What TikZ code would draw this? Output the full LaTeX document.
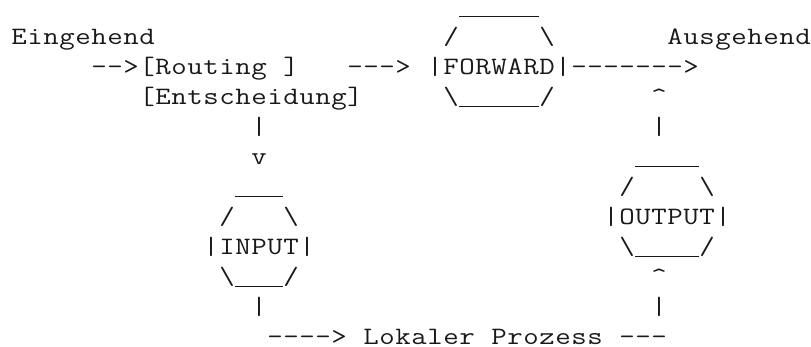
\documentclass[tikz,border=0pt]{standalone}
\usepackage{fontspec}
\usepackage{graphicx}
\newlength\cellw
\setlength\cellw{16pt}
\newcommand\asciicell[1]{\makebox[\cellw][c]{\scalebox{1.2}[1]{#1}}}
\def\asciiaux#1{\ifx\relax#1\let\asciinext\relax\else\asciicell{#1}\let\asciinext\asciiaux\fi\asciinext}
\newcommand\asciistr[1]{\asciiaux#1\relax}
\newcommand\us{\rule[-2.2pt]{13.34pt}{1.2pt}}
\newcommand\bs{\textbackslash}
\newcommand\caret{\textasciicircum}
\tikzset{
  asc/.style={anchor=base west, inner sep=0pt, outer sep=0pt,
    font=\ttfamily\fontsize{25pt}{30pt}\selectfont, text=black!90}
}
\begin{document}
\begin{tikzpicture}
\useasboundingbox (0pt,0pt) rectangle (811pt,-347pt);
\begin{scope}[x=16pt, y=-30pt, shift={(11pt,-15pt)}]
% row 0
\node[asc] (fwdtop) at (28,0) {\asciistr{\us\us\us\us\us}};
% row 1
\node[asc] (ein) at (0,1) {\asciistr{Eingehend}};
\node[asc] (fwdtl) at (27,1) {\asciistr{/}};
\node[asc] (fwdtr) at (33,1) {\asciistr{\bs}};
\node[asc] (aus) at (41,1) {\asciistr{Ausgehend}};
% row 2
\node[asc] (route) at (5,2) {\asciistr{-->[Routing~]}};
\node[asc] (arr1) at (21,2) {\asciistr{--->}};
\node[asc] (fwd) at (26,2) {\asciistr{|FORWARD|------->}};
% row 3
\node[asc] (ent) at (8,3) {\asciistr{[Entscheidung]}};
\node[asc] (fwdbot) at (27,3) {\asciistr{\bs\us\us\us\us\us/}};
\node[asc] (up1) at (40,3) {\asciistr{\caret}};
% row 4
\node[asc] (vl1) at (15,4) {\asciistr{|}};
\node[asc] (vr1) at (40,4) {\asciistr{|}};
% row 5
\node[asc] (down) at (15,5) {\asciistr{v}};
\node[asc] (outtop) at (39,5) {\asciistr{\us\us\us\us}};
% row 6
\node[asc] (intop) at (14,6) {\asciistr{\us\us\us}};
\node[asc] (outtl) at (38,6) {\asciistr{/}};
\node[asc] (outtr) at (43,6) {\asciistr{\bs}};
% row 7
\node[asc] (intl) at (13,7) {\asciistr{/}};
\node[asc] (intr) at (17,7) {\asciistr{\bs}};
\node[asc] (out) at (37,7) {\asciistr{|OUTPUT|}};
% row 8
\node[asc] (in) at (12,8) {\asciistr{|INPUT|}};
\node[asc] (outbot) at (38,8) {\asciistr{\bs\us\us\us\us/}};
% row 9
\node[asc] (inbot) at (13,9) {\asciistr{\bs\us\us\us/}};
\node[asc] (up2) at (40,9) {\asciistr{\caret}};
% row 10
\node[asc] (vl2) at (15,10) {\asciistr{|}};
\node[asc] (vr2) at (40,10) {\asciistr{|}};
% row 11
\node[asc] (lok) at (16,10.97) {\asciistr{---->~Lokaler~Prozess~---}};
\end{scope}
\end{tikzpicture}
\end{document}
